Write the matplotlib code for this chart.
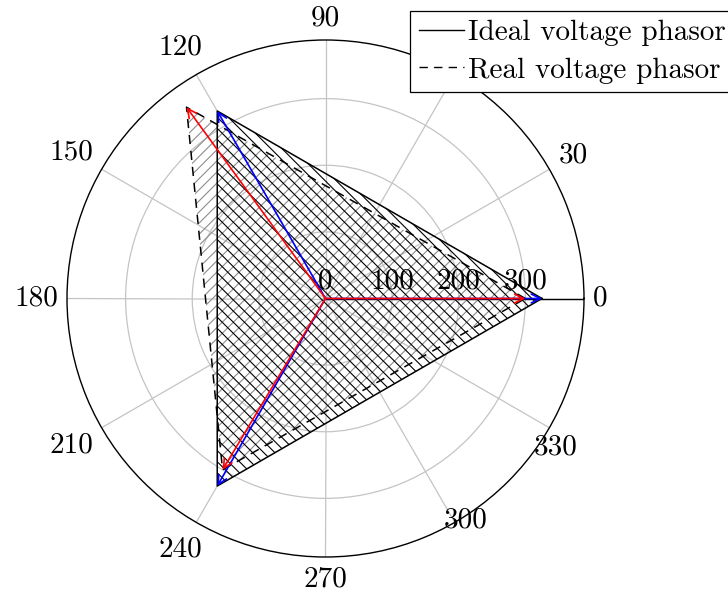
import numpy as np
import matplotlib
matplotlib.use('Agg')
import matplotlib.pyplot as plt
from matplotlib.lines import Line2D

plt.rcParams['font.family'] = 'cmr10'
plt.rcParams['mathtext.fontset'] = 'cm'
plt.rcParams['axes.formatter.use_mathtext'] = True
plt.rcParams['hatch.linewidth'] = 0.8

# 数据
theta_ticks = [0, 30, 60, 90, 120, 150, 180, 210, 240, 270, 300, 330]
theta_labels = ['0', '30', '', '90', '120', '150', '180', '210', '240', '270', '300', '330']
r_ticks = [0, 100, 200, 300]
r_labels = ['0', '100', '200', '300']
r_max = 388

ideal_angles = [0, 120, 240]
ideal_mag = [325, 325, 325]
real_angles = [0, 126, 239]
real_mag = [300, 355, 300]

legend_labels = ['Ideal voltage phasor', 'Real voltage phasor']

grid_color = '#c4c4c4'
dash = (0, (6, 4.5))
fs = 21
# 个别角度标签的位置（像素偏移，相对于外圆上的点）
label_shift = {300: (11, 2), 330: (6, -20)}


def closed(angles, mags):
    th = np.deg2rad(angles + angles[:1])
    r = mags + mags[:1]
    return th, r


def main():
    fig = plt.figure(figsize=(7.28, 5.92), dpi=100)
    ax = fig.add_axes([67 / 728, 35 / 592, 517 / 728, 517 / 592], projection='polar')
    ax.set_ylim(0, r_max)

    ax.set_xticks(np.deg2rad(theta_ticks))
    ax.set_xticklabels([])
    ax.set_yticks(r_ticks[1:])
    ax.set_yticklabels([])
    ax.grid(True, color=grid_color, linewidth=0.9)
    ax.tick_params(axis='x', direction='out', length=9, color=grid_color, width=0.9)
    ax.tick_params(axis='y', length=0)
    ax.spines['polar'].set_linewidth(1.0)
    ax.spines['polar'].set_color('black')

    # 0度轴线
    ax.plot([0, 0], [0, r_max], color='black', linewidth=1.0, zorder=2)

    # 阴影三角形
    th_r, r_r = closed(real_angles, real_mag)
    th_i, r_i = closed(ideal_angles, ideal_mag)
    ax.fill(th_r, r_r, facecolor='none', edgecolor='#8c8c8c', hatch='///', linewidth=0, zorder=3)
    ax.fill(th_i, r_i, facecolor='none', edgecolor='black', hatch='\\\\\\', linewidth=0, zorder=3)
    ax.plot(th_i, r_i, color='black', linewidth=1.1, zorder=4)
    ax.plot(th_r, r_r, color='black', linewidth=1.1, linestyle=dash, zorder=4)

    # 相量箭头
    for ang, mag in zip(ideal_angles, ideal_mag):
        ax.annotate('', xy=(np.deg2rad(ang), mag), xytext=(0, 0),
                    arrowprops=dict(arrowstyle='->', color='blue', lw=1.2, shrinkA=0, shrinkB=0,
                                    mutation_scale=16), zorder=5)
    for ang, mag in zip(real_angles, real_mag):
        ax.annotate('', xy=(np.deg2rad(ang), mag), xytext=(0, 0),
                    arrowprops=dict(arrowstyle='->', color='red', lw=1.2, shrinkA=0, shrinkB=0,
                                    mutation_scale=16), zorder=6)

    # 径向刻度标签
    for r, lab in zip(r_ticks, r_labels):
        ax.annotate(lab, xy=(0, r), xytext=(0, 7), textcoords='offset points',
                    ha='center', va='baseline', fontsize=fs, zorder=7)

    # 角度标签 (类似 pgfplots 的锚点)
    texts = []
    for ang, lab in zip(theta_ticks, theta_labels):
        t = ax.annotate(lab, xy=(np.deg2rad(ang), r_max), xytext=(0, 0), textcoords='offset pixels',
                        ha='center', va='center', fontsize=fs, annotation_clip=False)
        texts.append((t, ang))
    fig.canvas.draw()
    renderer = fig.canvas.get_renderer()
    pad = 9
    for t, ang in texts:
        if ang in label_shift:
            t.xyann = label_shift[ang]
            continue
        bb = t.get_window_extent(renderer)
        c, s = np.cos(np.deg2rad(ang)), np.sin(np.deg2rad(ang))
        d = abs(c) * bb.width / 2 + abs(s) * bb.height / 2
        t.xyann = ((pad + d) * c, (pad + d) * s)

    handles = [Line2D([], [], color='black', linewidth=1.0),
               Line2D([], [], color='black', linewidth=1.0, linestyle=dash)]
    leg = fig.legend(handles, legend_labels, loc='upper left', bbox_to_anchor=(410 / 728, 1 - 11 / 592),
                     fontsize=21, frameon=True, fancybox=False, framealpha=1, edgecolor='black',
                     borderaxespad=0, borderpad=0.3, labelspacing=0.38, handlelength=1.55,
                     handletextpad=0.15)
    leg.get_frame().set_linewidth(0.9)

    plt.savefig('out.png', dpi=100)


if __name__ == '__main__':
    main()
